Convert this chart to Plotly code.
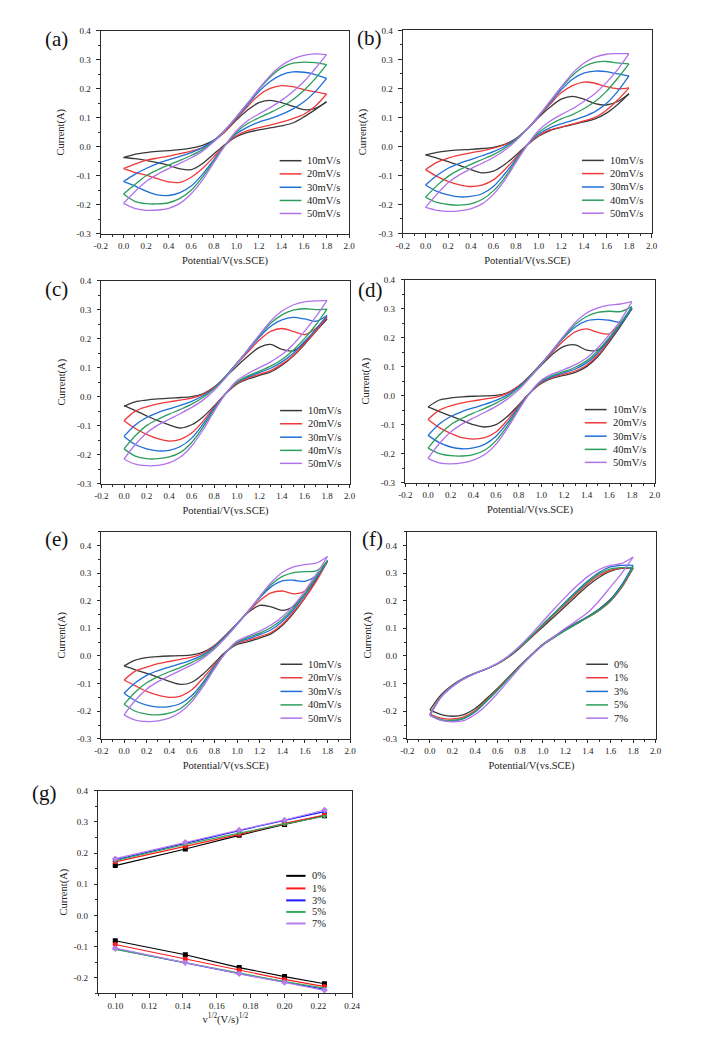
import plotly.graph_objects as go

# ---------------- data ----------------
POTENTIAL_V = [0.0, 0.1, 0.2, 0.3, 0.4, 0.5, 0.6, 0.7, 0.8, 0.9, 1.0,
               1.1, 1.2, 1.3, 1.4, 1.5, 1.6, 1.7, 1.8]
SCAN_RATE_LABELS = ["10mV/s", "20mV/s", "30mV/s", "40mV/s", "50mV/s"]
CONTENT_LABELS = ["0%", "1%", "3%", "5%", "7%"]

# forward (anodic) branch and reverse (cathodic) branch, sampled on POTENTIAL_V
A_FWD = [
    [-0.037, -0.026, -0.020, -0.016, -0.013, -0.010, -0.005, 0.005, 0.022, 0.052, 0.092, 0.127, 0.152, 0.160, 0.152, 0.140, 0.128, 0.132, 0.155],
    [-0.075, -0.060, -0.047, -0.039, -0.032, -0.024, -0.015, -0.003, 0.019, 0.053, 0.097, 0.139, 0.178, 0.201, 0.211, 0.207, 0.197, 0.189, 0.182],
    [-0.120, -0.095, -0.075, -0.058, -0.045, -0.033, -0.020, -0.003, 0.022, 0.057, 0.100, 0.145, 0.190, 0.225, 0.248, 0.258, 0.257, 0.249, 0.236],
    [-0.163, -0.130, -0.100, -0.080, -0.063, -0.047, -0.030, -0.010, 0.020, 0.058, 0.103, 0.150, 0.198, 0.240, 0.272, 0.288, 0.292, 0.290, 0.283],
    [-0.195, -0.155, -0.120, -0.095, -0.075, -0.057, -0.038, -0.015, 0.017, 0.057, 0.102, 0.150, 0.200, 0.245, 0.280, 0.302, 0.315, 0.320, 0.318],
]
A_REV = [
    [-0.037, -0.041, -0.047, -0.055, -0.064, -0.076, -0.079, -0.058, -0.025, 0.008, 0.035, 0.050, 0.058, 0.065, 0.072, 0.082, 0.103, 0.128, 0.155],
    [-0.075, -0.088, -0.098, -0.110, -0.121, -0.123, -0.105, -0.075, -0.035, 0.005, 0.038, 0.056, 0.066, 0.075, 0.085, 0.097, 0.112, 0.140, 0.182],
    [-0.120, -0.135, -0.153, -0.166, -0.168, -0.158, -0.135, -0.095, -0.045, 0.005, 0.045, 0.068, 0.085, 0.097, 0.112, 0.130, 0.155, 0.190, 0.236],
    [-0.163, -0.188, -0.196, -0.197, -0.193, -0.178, -0.150, -0.105, -0.050, 0.005, 0.050, 0.080, 0.100, 0.118, 0.137, 0.162, 0.195, 0.235, 0.283],
    [-0.195, -0.212, -0.219, -0.218, -0.212, -0.195, -0.162, -0.115, -0.055, 0.005, 0.055, 0.090, 0.113, 0.135, 0.160, 0.190, 0.225, 0.270, 0.318],
]
B_FWD = [
    [-0.029, -0.020, -0.015, -0.012, -0.010, -0.007, -0.003, 0.007, 0.027, 0.060, 0.100, 0.135, 0.163, 0.173, 0.163, 0.148, 0.143, 0.155, 0.182],
    [-0.080, -0.055, -0.040, -0.030, -0.022, -0.015, -0.006, 0.006, 0.025, 0.060, 0.103, 0.145, 0.185, 0.210, 0.222, 0.218, 0.206, 0.199, 0.202],
    [-0.133, -0.100, -0.075, -0.058, -0.045, -0.032, -0.018, 0.000, 0.025, 0.060, 0.105, 0.150, 0.195, 0.232, 0.253, 0.260, 0.258, 0.250, 0.243],
    [-0.175, -0.135, -0.103, -0.080, -0.062, -0.045, -0.028, -0.006, 0.023, 0.060, 0.105, 0.153, 0.202, 0.245, 0.275, 0.290, 0.293, 0.288, 0.285],
    [-0.210, -0.165, -0.125, -0.098, -0.077, -0.058, -0.038, -0.013, 0.020, 0.060, 0.105, 0.155, 0.205, 0.252, 0.287, 0.308, 0.318, 0.320, 0.320],
]
B_REV = [
    [-0.029, -0.040, -0.052, -0.065, -0.080, -0.091, -0.085, -0.062, -0.030, 0.005, 0.035, 0.055, 0.066, 0.075, 0.085, 0.095, 0.115, 0.145, 0.182],
    [-0.080, -0.103, -0.120, -0.132, -0.138, -0.133, -0.115, -0.080, -0.038, 0.005, 0.037, 0.057, 0.067, 0.077, 0.088, 0.100, 0.125, 0.160, 0.202],
    [-0.133, -0.155, -0.167, -0.174, -0.172, -0.163, -0.138, -0.095, -0.045, 0.005, 0.042, 0.064, 0.078, 0.090, 0.103, 0.120, 0.148, 0.190, 0.243],
    [-0.175, -0.193, -0.200, -0.202, -0.198, -0.183, -0.153, -0.108, -0.050, 0.005, 0.048, 0.075, 0.095, 0.110, 0.130, 0.155, 0.190, 0.235, 0.285],
    [-0.210, -0.220, -0.224, -0.222, -0.215, -0.198, -0.165, -0.117, -0.055, 0.005, 0.055, 0.087, 0.110, 0.130, 0.155, 0.183, 0.220, 0.265, 0.320],
]
C_FWD = [
    [-0.033, -0.018, -0.012, -0.008, -0.005, -0.003, 0.000, 0.010, 0.033, 0.067, 0.105, 0.140, 0.170, 0.180, 0.163, 0.158, 0.185, 0.225, 0.268],
    [-0.083, -0.050, -0.035, -0.025, -0.018, -0.012, -0.005, 0.008, 0.033, 0.070, 0.113, 0.155, 0.195, 0.225, 0.235, 0.225, 0.214, 0.235, 0.274],
    [-0.137, -0.098, -0.072, -0.055, -0.042, -0.030, -0.016, 0.003, 0.030, 0.070, 0.115, 0.160, 0.205, 0.243, 0.265, 0.273, 0.268, 0.260, 0.280],
    [-0.180, -0.135, -0.100, -0.078, -0.060, -0.044, -0.026, -0.003, 0.028, 0.068, 0.115, 0.163, 0.210, 0.253, 0.282, 0.298, 0.303, 0.300, 0.302],
    [-0.215, -0.165, -0.125, -0.098, -0.078, -0.058, -0.037, -0.012, 0.022, 0.065, 0.113, 0.163, 0.213, 0.260, 0.295, 0.316, 0.327, 0.330, 0.332],
]
C_REV = [
    [-0.031, -0.048, -0.066, -0.083, -0.097, -0.108, -0.097, -0.070, -0.032, 0.010, 0.043, 0.061, 0.073, 0.085, 0.108, 0.140, 0.180, 0.225, 0.268],
    [-0.083, -0.110, -0.130, -0.145, -0.153, -0.147, -0.125, -0.085, -0.035, 0.010, 0.045, 0.064, 0.077, 0.090, 0.112, 0.142, 0.182, 0.225, 0.274],
    [-0.137, -0.165, -0.180, -0.187, -0.185, -0.172, -0.143, -0.095, -0.040, 0.010, 0.048, 0.068, 0.083, 0.098, 0.120, 0.150, 0.190, 0.232, 0.280],
    [-0.180, -0.205, -0.214, -0.214, -0.208, -0.192, -0.158, -0.105, -0.045, 0.010, 0.050, 0.072, 0.088, 0.105, 0.128, 0.160, 0.200, 0.247, 0.302],
    [-0.215, -0.233, -0.238, -0.237, -0.228, -0.208, -0.170, -0.115, -0.050, 0.010, 0.055, 0.080, 0.100, 0.120, 0.145, 0.180, 0.225, 0.275, 0.332],
]
D_FWD = [
    [-0.039, -0.015, -0.008, -0.004, -0.002, -0.001, 0.001, 0.010, 0.033, 0.065, 0.105, 0.143, 0.170, 0.175, 0.157, 0.158, 0.195, 0.245, 0.300],
    [-0.082, -0.050, -0.035, -0.025, -0.018, -0.012, -0.005, 0.008, 0.033, 0.070, 0.110, 0.150, 0.190, 0.220, 0.230, 0.218, 0.213, 0.250, 0.300],
    [-0.137, -0.098, -0.072, -0.055, -0.042, -0.030, -0.016, 0.002, 0.030, 0.068, 0.110, 0.155, 0.200, 0.237, 0.258, 0.263, 0.260, 0.254, 0.302],
    [-0.181, -0.135, -0.100, -0.078, -0.060, -0.044, -0.026, -0.004, 0.026, 0.066, 0.110, 0.157, 0.203, 0.245, 0.273, 0.287, 0.291, 0.290, 0.307],
    [-0.216, -0.165, -0.125, -0.098, -0.077, -0.058, -0.037, -0.012, 0.020, 0.062, 0.108, 0.157, 0.207, 0.252, 0.285, 0.303, 0.312, 0.316, 0.324],
]
D_REV = [
    [-0.039, -0.055, -0.070, -0.085, -0.100, -0.108, -0.100, -0.072, -0.032, 0.010, 0.042, 0.060, 0.070, 0.080, 0.100, 0.135, 0.185, 0.240, 0.300],
    [-0.082, -0.110, -0.130, -0.145, -0.150, -0.145, -0.125, -0.085, -0.035, 0.010, 0.044, 0.063, 0.074, 0.085, 0.105, 0.140, 0.190, 0.245, 0.300],
    [-0.137, -0.162, -0.177, -0.183, -0.180, -0.168, -0.140, -0.095, -0.040, 0.010, 0.047, 0.066, 0.079, 0.092, 0.113, 0.148, 0.195, 0.245, 0.302],
    [-0.181, -0.200, -0.207, -0.208, -0.203, -0.188, -0.155, -0.105, -0.045, 0.010, 0.050, 0.070, 0.083, 0.098, 0.120, 0.155, 0.200, 0.250, 0.307],
    [-0.216, -0.232, -0.235, -0.232, -0.222, -0.203, -0.167, -0.113, -0.050, 0.010, 0.053, 0.075, 0.090, 0.107, 0.130, 0.165, 0.210, 0.260, 0.324],
]
E_FWD = [
    [-0.036, -0.015, -0.006, -0.002, 0.000, 0.001, 0.004, 0.014, 0.038, 0.075, 0.117, 0.158, 0.183, 0.178, 0.165, 0.180, 0.225, 0.283, 0.345],
    [-0.087, -0.055, -0.040, -0.028, -0.020, -0.012, -0.004, 0.010, 0.037, 0.075, 0.117, 0.160, 0.200, 0.228, 0.235, 0.225, 0.235, 0.285, 0.342],
    [-0.135, -0.097, -0.070, -0.053, -0.040, -0.028, -0.014, 0.004, 0.034, 0.073, 0.117, 0.163, 0.210, 0.250, 0.272, 0.274, 0.270, 0.290, 0.342],
    [-0.175, -0.130, -0.097, -0.075, -0.057, -0.041, -0.023, -0.002, 0.030, 0.070, 0.115, 0.163, 0.213, 0.258, 0.288, 0.302, 0.305, 0.308, 0.343],
    [-0.213, -0.160, -0.120, -0.093, -0.072, -0.052, -0.032, -0.008, 0.025, 0.067, 0.113, 0.162, 0.215, 0.265, 0.302, 0.322, 0.331, 0.336, 0.360],
]
E_REV = [
    [-0.036, -0.050, -0.063, -0.077, -0.092, -0.103, -0.095, -0.065, -0.025, 0.015, 0.042, 0.052, 0.065, 0.080, 0.110, 0.155, 0.210, 0.275, 0.345],
    [-0.087, -0.108, -0.128, -0.142, -0.150, -0.145, -0.122, -0.080, -0.032, 0.012, 0.045, 0.057, 0.070, 0.085, 0.115, 0.160, 0.210, 0.270, 0.342],
    [-0.135, -0.162, -0.178, -0.185, -0.183, -0.172, -0.143, -0.095, -0.038, 0.012, 0.048, 0.063, 0.077, 0.095, 0.125, 0.168, 0.220, 0.280, 0.342],
    [-0.175, -0.200, -0.210, -0.213, -0.207, -0.190, -0.155, -0.103, -0.042, 0.012, 0.050, 0.068, 0.083, 0.103, 0.133, 0.175, 0.225, 0.285, 0.343],
    [-0.213, -0.232, -0.237, -0.235, -0.225, -0.203, -0.165, -0.110, -0.047, 0.012, 0.054, 0.073, 0.090, 0.112, 0.142, 0.183, 0.235, 0.295, 0.360],
]
F_FWD = [
    [-0.195, -0.140, -0.105, -0.080, -0.062, -0.047, -0.028, -0.003, 0.030, 0.068, 0.105, 0.142, 0.180, 0.218, 0.255, 0.285, 0.307, 0.317, 0.318],
    [-0.210, -0.145, -0.108, -0.082, -0.063, -0.047, -0.028, -0.002, 0.032, 0.070, 0.110, 0.150, 0.188, 0.226, 0.262, 0.292, 0.310, 0.318, 0.318],
    [-0.215, -0.148, -0.110, -0.083, -0.063, -0.047, -0.027, 0.000, 0.034, 0.073, 0.115, 0.155, 0.195, 0.235, 0.272, 0.303, 0.322, 0.328, 0.328],
    [-0.213, -0.147, -0.109, -0.082, -0.063, -0.047, -0.028, -0.001, 0.033, 0.072, 0.113, 0.153, 0.192, 0.231, 0.268, 0.298, 0.315, 0.320, 0.320],
    [-0.215, -0.148, -0.110, -0.083, -0.063, -0.046, -0.026, 0.002, 0.038, 0.080, 0.125, 0.170, 0.213, 0.253, 0.288, 0.313, 0.328, 0.335, 0.358],
]
F_REV = [
    [-0.195, -0.212, -0.218, -0.212, -0.190, -0.155, -0.117, -0.075, -0.033, 0.005, 0.042, 0.070, 0.097, 0.120, 0.143, 0.170, 0.205, 0.255, 0.318],
    [-0.210, -0.225, -0.228, -0.220, -0.197, -0.160, -0.120, -0.077, -0.035, 0.004, 0.040, 0.068, 0.094, 0.117, 0.140, 0.165, 0.198, 0.248, 0.318],
    [-0.215, -0.232, -0.235, -0.227, -0.203, -0.165, -0.124, -0.080, -0.036, 0.004, 0.040, 0.068, 0.094, 0.118, 0.142, 0.168, 0.203, 0.258, 0.328],
    [-0.213, -0.230, -0.233, -0.225, -0.201, -0.163, -0.122, -0.079, -0.036, 0.003, 0.039, 0.066, 0.092, 0.116, 0.140, 0.166, 0.200, 0.252, 0.320],
    [-0.215, -0.233, -0.238, -0.234, -0.212, -0.178, -0.135, -0.088, -0.040, 0.002, 0.040, 0.070, 0.100, 0.128, 0.158, 0.200, 0.250, 0.300, 0.358],
]

# (g) peak currents vs square root of scan rate
G_SQRT_RATE = [0.1, 0.1414, 0.1732, 0.2, 0.2236]
G_ANODIC = [
    [0.160, 0.213, 0.257, 0.292, 0.320],
    [0.172, 0.222, 0.260, 0.295, 0.322],
    [0.178, 0.232, 0.272, 0.305, 0.333],
    [0.176, 0.228, 0.264, 0.293, 0.318],
    [0.182, 0.235, 0.274, 0.306, 0.338],
]
G_CATHODIC = [
    [-0.081, -0.126, -0.167, -0.196, -0.219],
    [-0.093, -0.140, -0.175, -0.205, -0.228],
    [-0.107, -0.152, -0.187, -0.213, -0.237],
    [-0.109, -0.152, -0.186, -0.212, -0.233],
    [-0.105, -0.152, -0.187, -0.215, -0.240],
]

# tick labels
CV_X_TICKS = [-0.2, 0.0, 0.2, 0.4, 0.6, 0.8, 1.0, 1.2, 1.4, 1.6, 1.8, 2.0]
CV_X_TEXT = ["-0.2", "0.0", "0.2", "0.4", "0.6", "0.8", "1.0", "1.2", "1.4", "1.6", "1.8", "2.0"]
CV_Y_TICKS = [-0.3, -0.2, -0.1, 0.0, 0.1, 0.2, 0.3, 0.4]
CV_Y_TEXT = ["-0.3", "-0.2", "-0.1", "0.0", "0.1", "0.2", "0.3", "0.4"]
G_X_TICKS = [0.10, 0.12, 0.14, 0.16, 0.18, 0.20, 0.22, 0.24]
G_X_TEXT = ["0.10", "0.12", "0.14", "0.16", "0.18", "0.20", "0.22", "0.24"]
G_Y_TICKS = [-0.2, -0.1, 0.0, 0.1, 0.2, 0.3, 0.4]
G_Y_TEXT = ["-0.2", "-0.1", "0.0", "0.1", "0.2", "0.3", "0.4"]

# ---------------- style ----------------
W, H = 709, 1043
FONT = "Liberation Serif"
AX = "#2b2b2b"
TXT = "#222222"
CV_COLORS = ["#3a3a3a", "#f0393b", "#1f6fd6", "#2b9d5c", "#b173ec"]
G_COLORS = ["#000000", "#ff1a1a", "#1a1aff", "#3aa860", "#b67cf0"]
G_SYMBOLS = ["square", "circle", "triangle-up", "triangle-down", "diamond"]


def dom_x(l, r):
    return [l / W, r / W]


def dom_y(t, b):
    return [1 - b / H, 1 - t / H]


# (label, fwd, rev, names, box(l, r, t, b), label center (px), y range)
CV_PANELS = [
    ("(a)", A_FWD, A_REV, SCAN_RATE_LABELS, (96.0, 349.5, 26.0, 231.0), (51, 34), [-0.3, 0.4]),
    ("(b)", B_FWD, B_REV, SCAN_RATE_LABELS, (404.5, 658.5, 25.7, 230.7), (370, 33), [-0.3, 0.4]),
    ("(c)", C_FWD, C_REV, SCAN_RATE_LABELS, (96.5, 350.0, 278.3, 483.3), (51, 287), [-0.3, 0.4]),
    ("(d)", D_FWD, D_REV, SCAN_RATE_LABELS, (407.0, 661.5, 277.3, 482.3), (371, 288), [-0.3, 0.4]),
    ("(e)", E_FWD, E_REV, SCAN_RATE_LABELS, (96.5, 350.5, 531.7, 741.0), (51, 539), [-0.3, 0.45]),
    ("(f)", F_FWD, F_REV, CONTENT_LABELS, (409.0, 662.7, 531.7, 741.0), (373, 539), [-0.3, 0.45]),
]
G_BOX = (93.3, 352.7, 793.3, 998.0)
G_LABEL_POS = (38, 796)

LEG_ROWS_CV = [0.36, 0.295, 0.229, 0.164, 0.10]
LEG_X_CV = (0.72, 0.808, 0.824)
LEG_ROWS_G = [0.58, 0.518, 0.459, 0.402, 0.345]
LEG_X_G = (0.74, 0.816, 0.832)


def axis_style(domain, anchor, rng, tickvals, ticktext, minor_tick0, minor_dtick,
               title, standoff, is_y):
    d = dict(
        domain=domain, anchor=anchor, range=rng,
        showline=True, linewidth=1, linecolor=AX, mirror=True,
        ticks="outside", ticklen=3.5, tickwidth=1, tickcolor=AX,
        tickmode="array", tickvals=tickvals, ticktext=ticktext,
        minor=dict(ticks="outside", ticklen=2, tickwidth=1, tickcolor=AX,
                   tickmode="linear", tick0=minor_tick0, dtick=minor_dtick),
        showgrid=False, zeroline=False, fixedrange=True,
        tickfont=dict(family=FONT, size=9, color=TXT),
        title=dict(text=title, font=dict(family=FONT, size=10.5, color=TXT),
                   standoff=standoff),
    )
    if is_y:
        d["ticklabelstandoff"] = 4
    return d


fig = go.Figure()
layout = {}
shapes = []
annotations = []

for i, (label, fwd, rev, names, box, lpos, yr) in enumerate(CV_PANELS, start=1):
    sfx = "" if i == 1 else str(i)
    xa, ya = "x" + sfx, "y" + sfx
    l, r, t, b = box
    for k in range(5):
        line = dict(color=CV_COLORS[k], width=1.3, shape="spline", smoothing=0.9)
        fig.add_trace(go.Scatter(x=POTENTIAL_V, y=fwd[k], mode="lines", line=line,
                                 xaxis=xa, yaxis=ya, name=names[k], legendgroup=f"{i}-{k}",
                                 showlegend=False, hoverinfo="skip"))
        fig.add_trace(go.Scatter(x=POTENTIAL_V[::-1], y=rev[k][::-1], mode="lines", line=line,
                                 xaxis=xa, yaxis=ya, name=names[k], legendgroup=f"{i}-{k}",
                                 showlegend=False, hoverinfo="skip"))
        # legend entry
        shapes.append(dict(type="line", xref=f"{xa} domain", yref=f"{ya} domain",
                           x0=LEG_X_CV[0], x1=LEG_X_CV[1], y0=LEG_ROWS_CV[k], y1=LEG_ROWS_CV[k],
                           line=dict(color=CV_COLORS[k], width=1.5)))
        annotations.append(dict(xref=f"{xa} domain", yref=f"{ya} domain",
                                x=LEG_X_CV[2], y=LEG_ROWS_CV[k], text=names[k], showarrow=False,
                                xanchor="left", yanchor="middle",
                                font=dict(family=FONT, size=10.5, color=TXT)))
    layout["xaxis" + sfx] = axis_style(dom_x(l, r), ya, [-0.2, 2.0], CV_X_TICKS, CV_X_TEXT,
                                       0.0, 0.1, "Potential/V(vs.SCE)", 6, False)
    layout["yaxis" + sfx] = axis_style(dom_y(t, b), xa, yr, CV_Y_TICKS, CV_Y_TEXT,
                                       0.0, 0.05, "Current(A)", 9, True)
    annotations.append(dict(xref="paper", yref="paper", x=lpos[0] / W, y=1 - lpos[1] / H,
                            text=label, showarrow=False, xanchor="center", yanchor="middle",
                            font=dict(family=FONT, size=21, color="#111111")))

# panel (g)
xa, ya = "x7", "y7"
for k in range(5):
    for series in (G_ANODIC, G_CATHODIC):
        fig.add_trace(go.Scatter(x=G_SQRT_RATE, y=series[k], mode="lines+markers",
                                 line=dict(color=G_COLORS[k], width=1.2),
                                 marker=dict(color=G_COLORS[k], symbol=G_SYMBOLS[k], size=5),
                                 xaxis=xa, yaxis=ya, name=CONTENT_LABELS[k],
                                 legendgroup=f"g-{k}", showlegend=False, hoverinfo="skip"))
    shapes.append(dict(type="line", xref=f"{xa} domain", yref=f"{ya} domain",
                       x0=LEG_X_G[0], x1=LEG_X_G[1], y0=LEG_ROWS_G[k], y1=LEG_ROWS_G[k],
                       line=dict(color=G_COLORS[k], width=2)))
    annotations.append(dict(xref=f"{xa} domain", yref=f"{ya} domain",
                            x=LEG_X_G[2], y=LEG_ROWS_G[k], text=CONTENT_LABELS[k], showarrow=False,
                            xanchor="left", yanchor="middle",
                            font=dict(family=FONT, size=10.5, color=TXT)))
l, r, t, b = G_BOX
layout["xaxis7"] = axis_style(dom_x(l, r), ya, [0.09, 0.24], G_X_TICKS, G_X_TEXT,
                              0.09, 0.01, "v<sup>1/2</sup>(V/s)<sup>1/2</sup>", 5, False)
layout["yaxis7"] = axis_style(dom_y(t, b), xa, [-0.25, 0.4], G_Y_TICKS, G_Y_TEXT,
                              0.0, 0.05, "Current(A)", 4, True)
annotations.append(dict(xref="paper", yref="paper", x=G_LABEL_POS[0] / W, y=1 - G_LABEL_POS[1] / H,
                        text="(g)", showarrow=False, xanchor="center", yanchor="middle",
                        font=dict(family=FONT, size=21, color="#111111")))

fig.update_layout(
    width=W, height=H, autosize=False,
    margin=dict(l=0, r=0, t=0, b=0),
    paper_bgcolor="white", plot_bgcolor="white",
    showlegend=False,
    font=dict(family=FONT, color=TXT),
    shapes=shapes, annotations=annotations,
    **layout,
)

fig.write_html("out.html")
